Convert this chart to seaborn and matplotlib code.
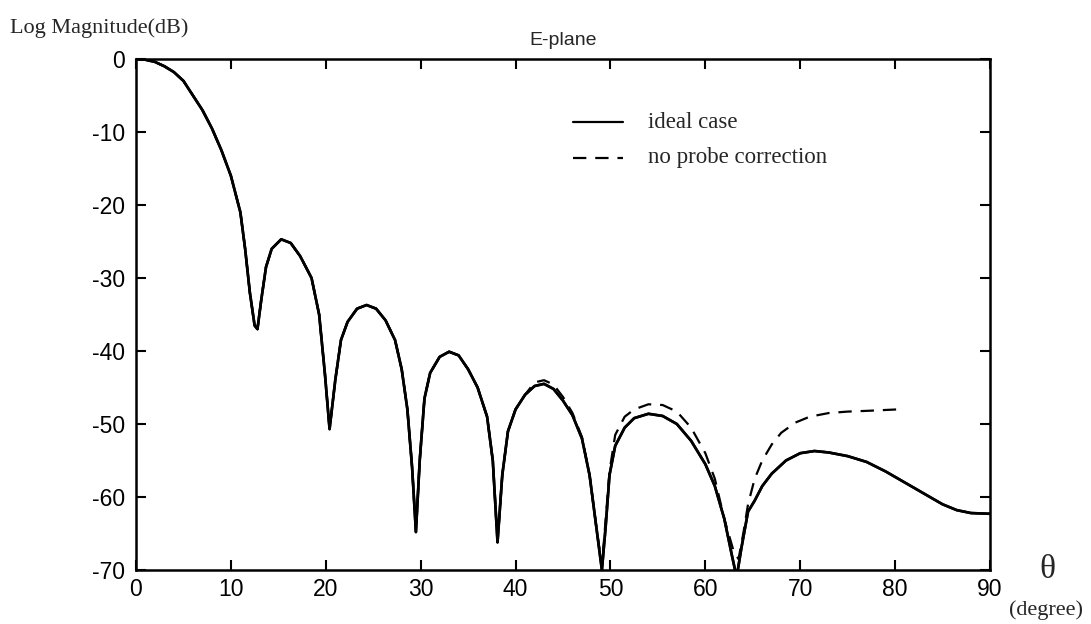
import numpy as np
import pandas as pd
import matplotlib
matplotlib.use("Agg")
import matplotlib.pyplot as plt
import seaborn as sns

# ideal case
ideal_theta = [0, 1, 2, 3, 4, 5, 6, 7, 8, 9, 10, 11, 11.5, 12, 12.5, 12.8, 13.2, 13.7, 14.3,
               15.3, 16.3, 17.3, 18.5, 19.3, 19.9, 20.4, 21, 21.6, 22.3, 23.3, 24.3, 25.3,
               26.3, 27.3, 28.0, 28.6, 29.1, 29.5, 29.9, 30.4, 31, 32, 33, 34, 35, 36, 37,
               37.6, 38.1, 38.6, 39.2, 40, 41, 42, 43, 44, 45, 46, 47, 47.8, 48.5, 49.1,
               49.5, 49.9, 50.5, 51.5, 52.5, 54, 55.5, 57, 58.5, 60, 61, 62, 62.8, 63.3,
               63.8, 64.5, 65.2, 66, 67, 68.5, 70, 71.5, 73, 75, 77, 79, 81, 83, 85, 86.5,
               88, 90]
ideal_db = [0, -0.1, -0.4, -1.0, -1.8, -3.0, -5.0, -7.0, -9.5, -12.5, -16, -21, -26, -32,
            -36.5, -37, -33, -28.5, -26, -24.7, -25.2, -27, -30, -35, -43, -50.7, -44, -38.5,
            -36, -34.2, -33.7, -34.2, -35.8, -38.5, -42.5, -48, -56, -64.8, -55, -46.5, -43,
            -40.8, -40.1, -40.6, -42.5, -45, -49, -55, -66.2, -57, -51, -48, -46, -44.8,
            -44.5, -45.2, -46.8, -48.8, -52, -57, -64, -70, -64, -57, -53, -50.5, -49.2,
            -48.6, -48.9, -50, -52.3, -55.5, -58.5, -63, -68, -71, -67, -62, -60.5, -58.5,
            -56.8, -55, -54, -53.7, -53.9, -54.4, -55.2, -56.5, -58, -59.5, -61, -61.8,
            -62.2, -62.3]

# no probe correction
noprobe_theta = [0, 1, 2, 3, 4, 5, 6, 7, 8, 9, 10, 11, 11.5, 12, 12.5, 12.8, 13.2, 13.7,
                 14.3, 15.3, 16.3, 17.3, 18.5, 19.3, 19.9, 20.4, 21, 21.6, 22.3, 23.3, 24.3,
                 25.3, 26.3, 27.3, 28.0, 28.6, 29.1, 29.5, 29.9, 30.4, 31, 32, 33, 34, 35,
                 36, 37, 37.6, 38.1, 38.6, 39.2, 40, 41, 42, 43, 44, 45, 46, 47, 47.8, 48.5,
                 49.1, 49.5, 49.9, 50.5, 51.5, 52.5, 54, 55.5, 57, 58.5, 60, 61, 62, 63,
                 63.5, 64, 64.5, 65.2, 66, 67, 68, 69.5, 71, 73, 75, 77, 80.3]
noprobe_db = [0, -0.1, -0.4, -1.0, -1.8, -3.0, -5.0, -7.0, -9.5, -12.5, -16, -21, -26, -32,
              -36.5, -37, -33, -28.5, -26, -24.7, -25.2, -27, -30, -35, -43, -50.7, -44,
              -38.5, -36, -34.2, -33.7, -34.2, -35.8, -38.5, -42.5, -48, -56, -64.8, -55,
              -46.5, -43, -40.8, -40.1, -40.6, -42.5, -45, -49, -55, -66.2, -57, -51, -48,
              -46, -44.3, -44.0, -44.6, -46.3, -48.5, -51.8, -57, -64, -69.5, -63, -56.5,
              -51.5, -49, -48, -47.3, -47.4, -48.3, -50.5, -54, -57.5, -63, -67.5, -68.5,
              -65, -61, -57.5, -55, -52.8, -51.2, -49.8, -49, -48.5, -48.3, -48.2, -48.0]

x_ticks = [0, 10, 20, 30, 40, 50, 60, 70, 80, 90]
y_ticks = [0, -10, -20, -30, -40, -50, -60, -70]

sns.set_style("ticks")
plt.rcParams['font.family'] = ['Liberation Sans', 'DejaVu Sans']

fig = plt.figure(figsize=(10.91, 6.24), dpi=100)
ax = fig.add_axes([136 / 1091, 1 - 570 / 624, (990 - 136) / 1091, (570 - 59) / 624])

df_i = pd.DataFrame({"theta": ideal_theta, "db": ideal_db})
df_n = pd.DataFrame({"theta": noprobe_theta, "db": noprobe_db})
sns.lineplot(data=df_i, x="theta", y="db", ax=ax, color="black", lw=1.9, sort=False)
sns.lineplot(data=df_n, x="theta", y="db", ax=ax, color="black", lw=1.6, sort=False,
             dashes=False, linestyle=(0, (6, 4)))
# draw ideal again on top so it stays solid where curves overlap
sns.lineplot(data=df_i, x="theta", y="db", ax=ax, color="black", lw=1.9, sort=False)

ax.set_xlim(0, 90)
ax.set_ylim(-70, 0)
ax.set_xticks(x_ticks)
ax.set_yticks(y_ticks)
ax.set_xticklabels([str(t) for t in x_ticks])
ax.set_yticklabels([str(t) for t in y_ticks])
ax.tick_params(direction="in", length=7, width=1.5, labelsize=16.5, top=True, right=True,
               colors="black")
ax.tick_params(axis="x", pad=6)
ax.tick_params(axis="y", pad=8)
for s in ax.spines.values():
    s.set_linewidth(1.8)
    s.set_color("black")
ax.set_xlabel("")
ax.set_ylabel("")

ax.set_title("E-plane", fontsize=14, pad=10, family=['Liberation Sans', 'DejaVu Sans'])

serif = ['Liberation Serif', 'DejaVu Serif']
fig.text(10 / 1091, 1 - 28 / 624, "Log Magnitude(dB)", family=serif, fontsize=16,
         ha="left", va="center")
fig.text(1047 / 1091, 1 - 570 / 624, "θ", family=serif, fontsize=24, ha="center", va="center")
fig.text(1046 / 1091, 1 - 610 / 624, "(degree)", family=serif, fontsize=16,
         ha="center", va="center")

# legend drawn manually in axes-data coords via lines
from matplotlib.lines import Line2D
fig.add_artist(Line2D([573 / 1091, 623 / 1091], [1 - 122 / 624, 1 - 122 / 624],
                      color="black", lw=1.6))
fig.add_artist(Line2D([573 / 1091, 623 / 1091], [1 - 158 / 624, 1 - 158 / 624],
                      color="black", lw=1.6, linestyle=(0, (6, 4))))
fig.text(648 / 1091, 1 - 122 / 624, "ideal case", family=serif, fontsize=16.5,
         ha="left", va="center")
fig.text(648 / 1091, 1 - 158 / 624, "no probe correction", family=serif, fontsize=16.5,
         ha="left", va="center")

fig.savefig("out.png", dpi=100, facecolor="white")
